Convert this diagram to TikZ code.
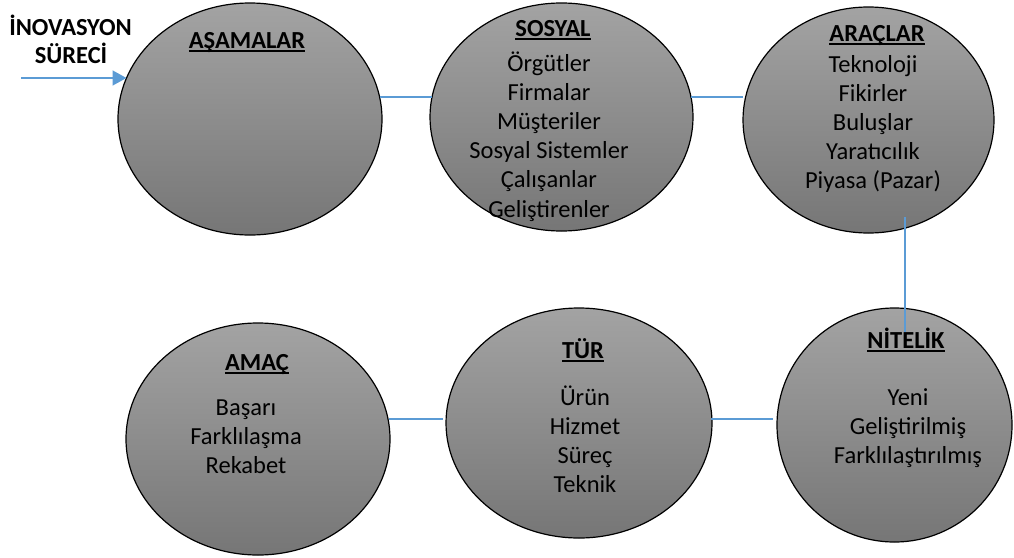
\documentclass[tikz,border=0pt]{standalone}
\usepackage{fontspec}
\setmainfont{Carlito}
\usetikzlibrary{shapes.geometric,arrows.meta}
\definecolor{lineblue}{RGB}{91,155,213}
\definecolor{gtop}{RGB}{163,163,163}
\definecolor{gbot}{RGB}{118,118,118}
\newcommand\hdline[1]{\setbox0=\hbox{#1}\rlap{\rule[-4pt]{\wd0}{2pt}}\box0}
\tikzset{
  bubble/.style={ellipse, draw=black, line width=1.2pt, top color=gtop, bottom color=gbot, inner sep=0pt},
  txt/.style={anchor=base, inner sep=0pt, font=\fontsize{24.5}{29.5}\selectfont, text=black},
  hd/.style={txt, font=\fontsize{24.5}{29.5}\selectfont\bfseries},
  link/.style={draw=lineblue, line width=1.3pt},
  arrowlink/.style={draw=lineblue, line width=1.5pt, -{Triangle[length=14pt,width=15pt]}}
}
\begin{document}
\begin{tikzpicture}[x=1pt,y=1pt]
\fill[white] (0,0) rectangle (1014,-557);
\useasboundingbox (0,0) rectangle (1014,-557);

% ellipses
\node[bubble, minimum width=264pt, minimum height=232pt] (e1) at (250,-119) {};
\node[bubble, minimum width=263pt, minimum height=228pt] (e2) at (561.5,-117) {};
\node[bubble, minimum width=251pt, minimum height=226pt] (e3) at (868.5,-120) {};
\node[bubble, minimum width=235pt, minimum height=234pt] (e4) at (894.5,-425) {};
\node[bubble, minimum width=266pt, minimum height=230pt] (e6) at (579,-423) {};
\node[bubble, minimum width=264pt, minimum height=232pt] (e5) at (258,-439) {};

% connectors
\coordinate (start) at (21,-78);
\draw[arrowlink] (start) -- ([shift={(-123.5,41)}]e1.center);
\draw[link] ([shift={(129.6,22)}]e1.center) -- ([shift={(-129.5,20)}]e2.center);
\draw[link] ([shift={(129.5,20)}]e2.center) -- ([shift={(-125.5,23)}]e3.center);
\draw[link] ([shift={(36.5,-97)}]e3.center) -- ([shift={(10.5,93)}]e4.center);
\draw[link] ([shift={(131,20)}]e5.center) -- ([shift={(-136,4)}]e6.center);
\draw[link] ([shift={(132,4)}]e6.center) -- ([shift={(-121.5,6)}]e4.center);

% side title
\node[hd] (t1) at (70.5,-35) {İNOVASYON};
\node[hd] (t2) at (71,-63) {SÜRECİ};

% headings
\node[hd] (h1) at (247,-48) {\hdline{AŞAMALAR}};
\node[hd] (h2) at (553,-36) {\hdline{SOSYAL}};
\node[hd] (h3) at (877,-41) {\hdline{ARAÇLAR}};
\node[hd] (h4) at (906,-348) {\hdline{NİTELİK}};
\node[hd] (h6) at (583,-358) {\hdline{TÜR}};
\node[hd] (h5) at (257,-370) {\hdline{AMAÇ}};

% lists
\foreach \t [count=\i] in {Örgütler, Firmalar, Müşteriler, Sosyal Sistemler, Çalışanlar, Geliştirenler}
  \node[txt] (s\i) at (549,{-71.5-29.1*(\i-1)}) {\t};
\foreach \t [count=\i] in {Teknoloji, Fikirler, Buluşlar, Yaratıcılık, Piyasa (Pazar)}
  \node[txt] (a\i) at (873,{-72-29*(\i-1)}) {\t};
\foreach \t [count=\i] in {Yeni, Geliştirilmiş, Farklılaştırılmış}
  \node[txt] (n\i) at (908,{-405-29*(\i-1)}) {\t};
\foreach \t [count=\i] in {Ürün, Hizmet, Süreç, Teknik}
  \node[txt] (r\i) at (585,{-405-29*(\i-1)}) {\t};
\foreach \t [count=\i] in {Başarı, Farklılaşma, Rekabet}
  \node[txt] (m\i) at (246,{-415-29*(\i-1)}) {\t};
\end{tikzpicture}
\end{document}
